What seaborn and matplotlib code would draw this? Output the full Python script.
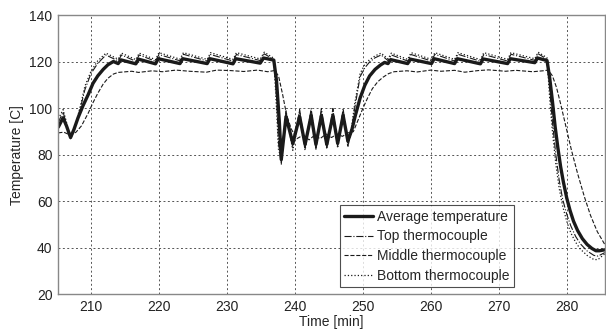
import seaborn as sns
import pandas as pd
from matplotlib import pyplot as plt

# average temperature (thick line)
avg_t = [205.2, 205.9, 206.4, 207.0, 207.5, 208.1, 208.8, 209.6, 210.3, 211.0, 211.8, 212.5, 213.3,
         214.0, 214.4, 216.6, 217.0, 219.5, 219.9, 223.1, 223.5, 227.1, 227.5, 230.9, 231.3, 234.9, 235.4, 236.9,
         237.3, 237.7, 238.0, 238.7, 239.7, 240.7, 241.5, 242.4, 243.1, 243.9, 244.7, 245.6, 246.3, 247.1, 247.8, 248.4,
         248.9, 249.6, 250.3, 251.0, 251.8, 252.6, 253.2, 253.7, 254.1, 256.6, 257.0, 260.1, 260.5, 263.5, 263.9,
         267.3, 267.7, 271.3, 271.7, 275.3, 275.7, 277.1,
         277.5, 277.9, 278.3, 278.7, 279.1, 279.5, 280.0, 280.5, 281.0, 281.6, 282.3, 283.0, 283.7, 284.3, 284.8, 285.6]
avg_temp = [92, 96, 92.5, 87.5, 91, 96, 101, 106, 110.8, 114, 116.8, 118.8, 120.2,
            119.3, 120.9, 119.2, 121.2, 119.2, 121.4, 119.3, 121.4, 119.3, 121.4, 119.2, 121.4, 119.5, 121.7, 120.8,
            112, 95, 78, 96.5, 85, 96.5, 84.5, 97, 84.5, 97, 84.5, 97, 85, 97, 86, 91,
            97, 104.5, 110, 114, 116.8, 118.7, 119.8, 119.3, 121, 119.3, 121.2, 119.3, 121.4, 119.3, 121.4,
            119.2, 121.3, 119.3, 121.4, 119.7, 121.7, 120.6,
            113, 103, 92, 83, 75, 68.5, 61.5, 56, 51.5, 47.5, 44, 41.5, 39.8, 38.8, 38.8, 39.2]

# top and bottom thermocouples share the time stamps
tc_t = [205.2, 205.9, 206.4, 207.0, 207.5, 208.1, 208.6, 209.1, 210.0, 211.0, 212.2,
        212.9, 214.0, 214.5, 216.6, 217.1, 219.5, 220.0, 223.1, 223.6, 227.1, 227.6, 230.9, 231.4, 234.9, 235.5, 236.9,
        237.3, 237.6, 238.0, 238.7, 239.7, 240.7, 241.5, 242.4, 243.1, 243.9, 244.7, 245.6, 246.3, 247.1, 247.8, 248.3,
        248.8, 249.6, 250.3, 251.0, 251.8, 252.7, 253.7, 254.2, 256.6, 257.1, 260.1, 260.6, 263.5, 264.0,
        267.3, 267.8, 271.3, 271.8, 275.3, 275.8, 277.1,
        277.5, 277.9, 278.4, 278.9, 279.4, 280.0, 280.6, 281.3, 282.0, 283.0, 284.0, 284.6, 285.6]
top_temp = [94, 98.5, 93, 88, 91, 96.5, 102, 108, 115, 119.4, 123,
            122, 120.5, 123, 120.3, 123, 120.3, 123.2, 120.5, 123.3, 120.4, 123.2, 120.4, 123.2, 120.6, 123.5, 121,
            105, 85, 76, 99, 83, 99.5, 83, 100, 83, 100, 83, 100, 83.5, 100, 84, 90,
            100, 113.7, 117.5, 120, 121.8, 123, 120.6, 123, 120.4, 123.2, 120.4, 123.3, 120.4, 123.3,
            120.3, 123.2, 120.4, 123.3, 120.7, 123.5, 121.2,
            108, 94, 80, 69, 61, 54.5, 49.5, 45, 41.8, 38.7, 36.8, 36.5, 38]
bot_temp = [95.5, 99.5, 94, 87, 90, 97, 103, 109.5, 116, 120.5, 123.8,
            122.8, 121.2, 123.8, 121, 123.8, 121, 124, 121.2, 124, 121.1, 124, 121.1, 124, 121.3, 124.2, 121.6,
            100, 82, 79, 98.5, 82, 99, 82, 99, 82.5, 99, 82.5, 99, 83, 99, 83.5, 91,
            102, 115, 119, 121, 122.6, 123.8, 121.3, 123.8, 121.1, 124, 121.1, 124, 121.1, 124,
            121, 124, 121.1, 124, 121.4, 124.2, 121.8,
            104, 90, 76, 65.5, 58, 51.5, 46.5, 42.5, 39.5, 36.8, 35, 35, 37.5]

# middle thermocouple
mid_t = [205.2, 206.0, 207.0, 207.8, 208.6, 209.6, 210.3, 211.0, 211.8, 212.5, 213.3, 214.0,
         216.0, 217.0, 219.0, 220.5, 222.5, 224.5, 227.0, 228.5, 230.5, 232.5, 234.5, 236.0, 237.0,
         237.6, 238.2, 238.8, 239.5, 240.3, 241.2, 242.1, 242.9, 243.7, 244.6, 245.4, 246.2, 247.0, 247.8, 248.6,
         249.3, 250.0, 250.7, 251.4, 252.2, 253.0, 253.8, 254.6, 256.5, 258.0, 260.0, 261.5, 263.5, 265.0,
         267.0, 268.5, 271.0, 272.5, 275.0, 276.5, 277.3,
         277.9, 278.5, 279.1, 279.9, 280.7, 281.6, 282.6, 283.5, 284.5, 285.6]
mid_temp = [89.5, 89.8, 88.5, 89.8, 92.5, 98, 102.5, 106.5, 110.5, 113, 114.8, 115.5,
            116, 115.5, 116.2, 115.8, 116.5, 116, 115.6, 116.5, 116.3, 115.9, 116.5, 115.8, 116.3,
            114, 106, 97, 91, 87, 88.5, 86.5, 88.5, 87, 89, 87.5, 89, 88, 89.5, 90,
            95, 100, 104.5, 108.5, 111.5, 113.5, 115, 115.8, 116.2, 115.7, 116.5, 116, 116.4, 115.6,
            116.3, 116.6, 116, 116.4, 115.8, 116.2, 116.5,
            114, 109, 102, 92, 82, 72, 62, 54, 47, 41.5]

x_ticks = [210, 220, 230, 240, 250, 260, 270, 280]
y_ticks = [20, 40, 60, 80, 100, 120, 140]

sns.set_style('white')
plt.rcParams['font.family'] = ['Liberation Sans', 'DejaVu Sans']

fig = plt.figure(figsize=(6.06, 3.29), dpi=100)
ax = fig.add_axes([0.0957, 0.105, 0.9023, 0.848])

series = [
    (avg_t, avg_temp, 'Average temperature', '-', 2.4),
    (tc_t, top_temp, 'Top thermocouple', '-.', 0.8),
    (mid_t, mid_temp, 'Middle thermocouple', '--', 0.8),
    (tc_t, bot_temp, 'Bottom thermocouple', ':', 0.9),
]
for t, v, name, ls, lw in series:
    df = pd.DataFrame({'t': t, 'T': v})
    sns.lineplot(data=df, x='t', y='T', ax=ax, estimator=None, sort=False,
                 color='#1a1a1a', linestyle=ls, linewidth=lw, label=name)

ax.set_xlim(205.15, 285.6)
ax.set_ylim(20, 140)
ax.set_xticks(x_ticks)
ax.set_yticks(y_ticks)
ax.grid(True, linestyle=(0, (2, 2.5)), color='#555555', linewidth=0.7)
ax.tick_params(direction='in', length=3, labelsize=10, colors='#222222', pad=4)
for sp in ax.spines.values():
    sp.set_color('#888888')
    sp.set_linewidth(1.0)
ax.set_xlabel('Time [min]', fontsize=10, labelpad=1)
ax.set_ylabel('Temperature [C]', fontsize=10, labelpad=4)

leg = ax.legend(loc='lower left', bbox_to_anchor=(0.515, 0.026), fontsize=10,
                frameon=True, fancybox=False, handlelength=2.1, handletextpad=0.3,
                borderpad=0.3, labelspacing=0.42, borderaxespad=0)
leg.get_frame().set_edgecolor('#222222')
leg.get_frame().set_linewidth(0.8)

fig.savefig('out.png', dpi=100)
